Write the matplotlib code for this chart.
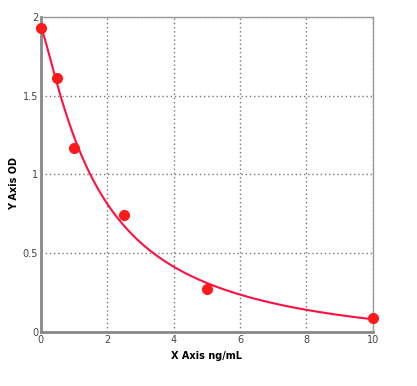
import numpy as np
import matplotlib.pyplot as plt

# standard concentrations (ng/mL) and measured OD
conc = [0, 0.5, 1, 2.5, 5, 10]
od = [1.93, 1.61, 1.17, 0.74, 0.27, 0.09]

x_ticks = [0, 2, 4, 6, 8, 10]
y_ticks = [0, 0.5, 1, 1.5, 2]


def fit_4pl(x, y):
    # 4PL: y = d + (a - d) / (1 + (x/c)^b); a, d solved linearly on a b/c grid
    x = np.asarray(x, float)
    y = np.asarray(y, float)
    best = None
    for b in np.linspace(0.5, 3.0, 126):
        for c in np.linspace(0.3, 10.0, 195):
            g = 1.0 / (1.0 + (x / c) ** b)
            A = np.column_stack([g, 1 - g])
            coef, *_ = np.linalg.lstsq(A, y, rcond=None)
            err = np.sum((A @ coef - y) ** 2)
            if best is None or err < best[0]:
                best = (err, coef[0], b, c, coef[1])
    return best[1:]


a, b, c, d = fit_4pl(conc, od)
xs = np.linspace(0, 10, 300)
ys = d + (a - d) / (1 + (xs / c) ** b)

fig = plt.figure(figsize=(4.17, 3.86), dpi=100)
ax = fig.add_axes([0.098, 0.140, 0.796, 0.816])

ax.plot(xs, ys, color="#ff1040", lw=1.5, zorder=3)
ax.plot(conc, od, "o", color="#ff1a1a", ms=7, zorder=4, clip_on=False)

ax.set_xlim(0, 10)
ax.set_ylim(0, 2)
ax.set_xticks(x_ticks)
ax.set_yticks(y_ticks)
ax.set_xticklabels([str(t) for t in x_ticks])
ax.set_yticklabels(["0", "0.5", "1", "1.5", "2"])
ax.tick_params(length=0, labelsize=7, colors="#444444", pad=2)

ax.grid(True, ls=(0, (1, 2)), color="#777777", lw=1.0)
for s in ax.spines.values():
    s.set_color("#999999")
    s.set_linewidth(1.0)
ax.spines["left"].set_linewidth(2)
ax.spines["bottom"].set_linewidth(2)
ax.spines["left"].set_color("#888888")
ax.spines["bottom"].set_color("#888888")

ax.set_xlabel("X Axis ng/mL", fontsize=7, fontweight="bold")
ax.set_ylabel("Y Axis OD", fontsize=7, fontweight="bold")
ax.xaxis.set_label_coords(0.5, -0.06)
ax.yaxis.set_label_coords(-0.065, 0.47)

fig.savefig("out.png", dpi=100)
